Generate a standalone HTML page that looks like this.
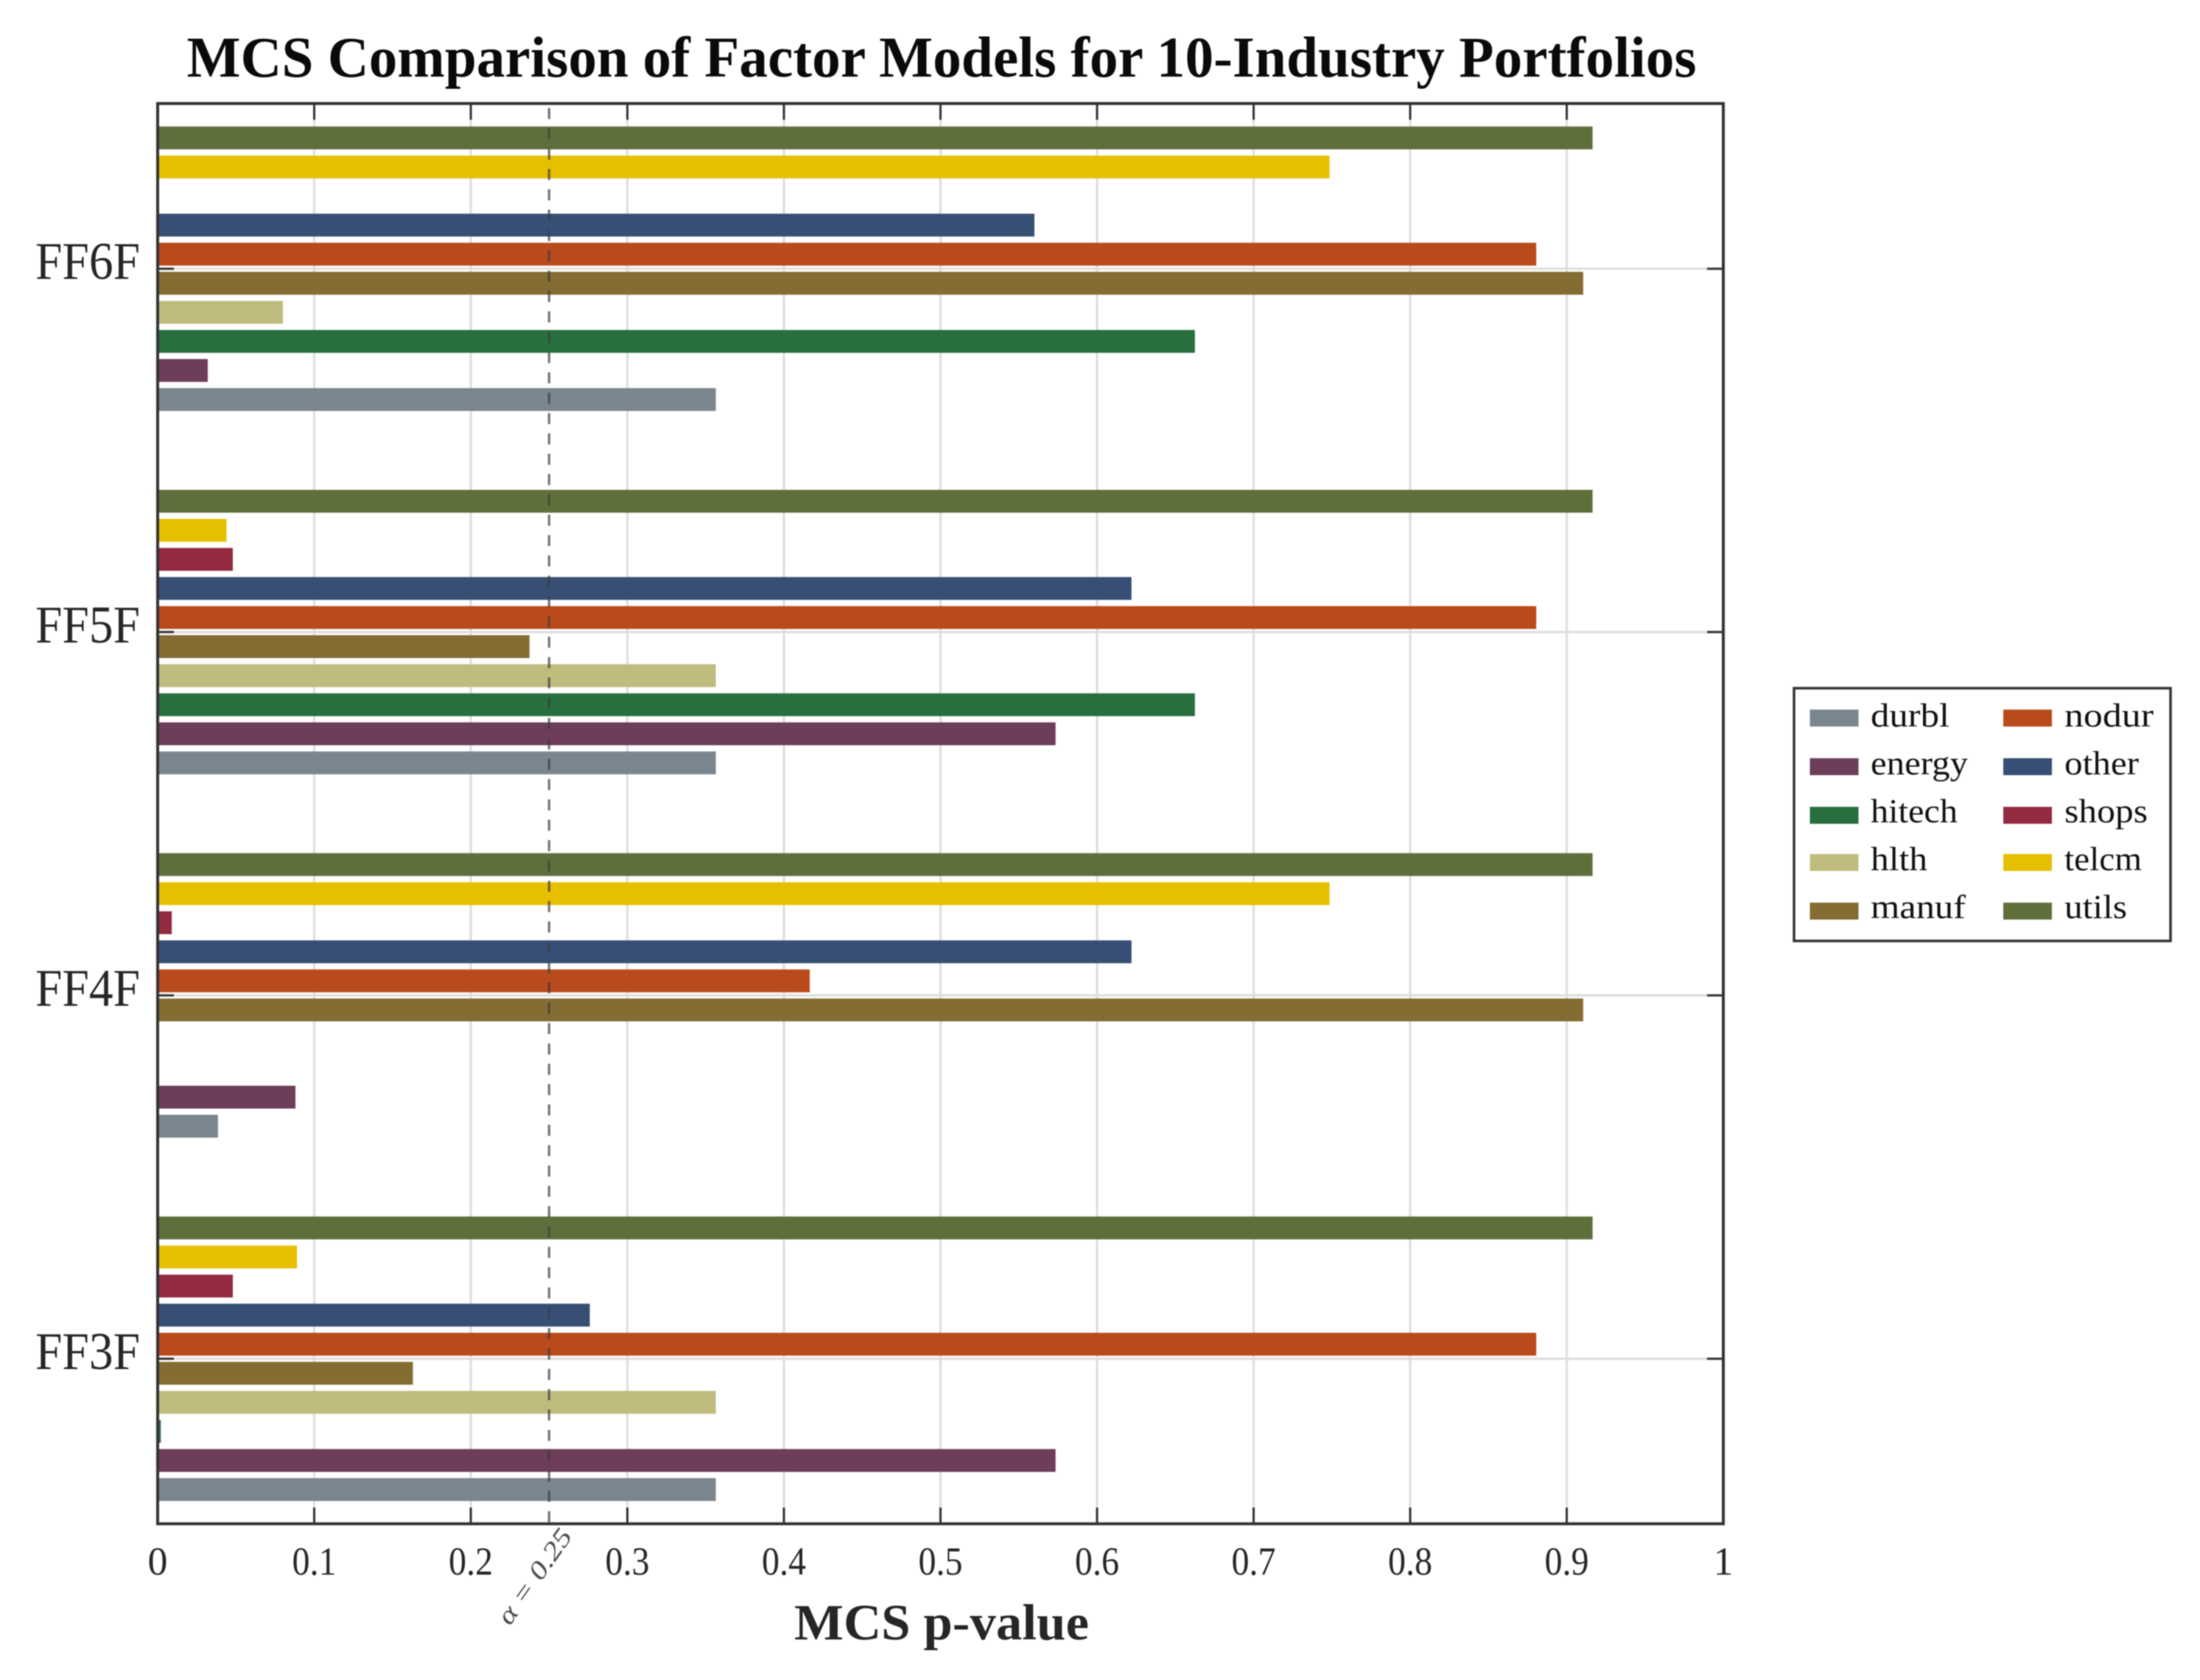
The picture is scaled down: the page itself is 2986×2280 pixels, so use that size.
<!DOCTYPE html>
<html lang="en">
<head>
<meta charset="utf-8">
<title>MCS Comparison of Factor Models for 10-Industry Portfolios</title>
<style>
html,body{margin:0;padding:0;background:#fff;}
body{width:2986px;height:2280px;overflow:hidden;}
svg{display:block;filter:blur(0.8px);}
text{font-family:"Liberation Serif",serif;}
</style>
</head>
<body>
<svg id="chart" xmlns="http://www.w3.org/2000/svg" width="2986" height="2280" viewBox="0 0 2986 2280">
  <rect x="0" y="0" width="2986" height="2280" fill="#ffffff"/>
  <text x="1278" y="104" text-anchor="middle" font-size="78" font-weight="bold" fill="#0a0a0a" textLength="2049" lengthAdjust="spacingAndGlyphs">MCS Comparison of Factor Models for 10-Industry Portfolios</text>
  <g id="plot"></g>
  <text x="1278" y="2225" text-anchor="middle" font-size="69" font-weight="bold" fill="#262626" textLength="400" lengthAdjust="spacingAndGlyphs">MCS p-value</text>
  <text transform="translate(735 2146) rotate(-55)" text-anchor="middle" font-size="35" font-style="italic" fill="#4a4a4a" textLength="150" lengthAdjust="spacingAndGlyphs">α = 0.25</text>
  <g>
    <rect x="2435" y="934" width="511" height="343" fill="#ffffff" stroke="#333333" stroke-width="3.5"/>
    <g><rect x="2456.5" y="963" width="66" height="23" fill="#7a868d"/><text x="2539" y="986" font-size="46" fill="#111" textLength="107" lengthAdjust="spacingAndGlyphs">durbl</text></g>
    <g><rect x="2456.5" y="1029" width="66" height="23" fill="#6d3d59"/><text x="2539" y="1051" font-size="46" fill="#111" textLength="132" lengthAdjust="spacingAndGlyphs">energy</text></g>
    <g><rect x="2456.5" y="1095" width="66" height="23" fill="#286f3f"/><text x="2539" y="1116" font-size="46" fill="#111" textLength="118" lengthAdjust="spacingAndGlyphs">hitech</text></g>
    <g><rect x="2456.5" y="1159" width="66" height="23" fill="#bfbc7d"/><text x="2539" y="1181" font-size="46" fill="#111" textLength="77" lengthAdjust="spacingAndGlyphs">hlth</text></g>
    <g><rect x="2456.5" y="1225" width="66" height="23" fill="#846c32"/><text x="2539" y="1246" font-size="46" fill="#111" textLength="129" lengthAdjust="spacingAndGlyphs">manuf</text></g>
    <g><rect x="2719" y="963" width="66" height="23" fill="#b94a1c"/><text x="2802" y="986" font-size="46" fill="#111" textLength="121" lengthAdjust="spacingAndGlyphs">nodur</text></g>
    <g><rect x="2719" y="1029" width="66" height="23" fill="#374f75"/><text x="2802" y="1051" font-size="46" fill="#111" textLength="101" lengthAdjust="spacingAndGlyphs">other</text></g>
    <g><rect x="2719" y="1095" width="66" height="23" fill="#922a40"/><text x="2802" y="1116" font-size="46" fill="#111" textLength="113" lengthAdjust="spacingAndGlyphs">shops</text></g>
    <g><rect x="2719" y="1159" width="66" height="23" fill="#e6c000"/><text x="2802" y="1181" font-size="46" fill="#111" textLength="105" lengthAdjust="spacingAndGlyphs">telcm</text></g>
    <g><rect x="2719" y="1225" width="66" height="23" fill="#5f6f3b"/><text x="2802" y="1246" font-size="46" fill="#111" textLength="85" lengthAdjust="spacingAndGlyphs">utils</text></g>
  </g>
</svg>
<script>
// Categories run bottom to top on the y axis.
const categories = ["FF3F", "FF4F", "FF5F", "FF6F"];
const seriesNames = ["durbl", "energy", "hitech", "hlth", "manuf", "nodur", "other", "shops", "telcm", "utils"];
const seriesColors = ["#7a868d", "#6d3d59", "#286f3f", "#bfbc7d", "#846c32", "#b94a1c", "#374f75", "#922a40", "#e6c000", "#5f6f3b"];
const durbl  = [0.3565, 0.0385, 0.3565, 0.3565];
const energy = [0.5735, 0.088, 0.5735, 0.032];
const hitech = [0.002, 0,     0.6625, 0.6625];
const hlth   = [0.3565, 0,     0.3565, 0.080];
const manuf  = [0.163, 0.9105, 0.2375, 0.9105];
const nodur  = [0.8805, 0.4165, 0.8805, 0.8805];
const other  = [0.276, 0.622, 0.622, 0.560];
const shops  = [0.048, 0.009, 0.048, 0];
const telcm  = [0.089, 0.7485, 0.044, 0.7485];
const utils  = [0.9165, 0.9165, 0.9165, 0.9165];
const xTickValues = [0, 0.1, 0.2, 0.3, 0.4, 0.5, 0.6, 0.7, 0.8, 0.9, 1];
const xTickLabels = ["0", "0.1", "0.2", "0.3", "0.4", "0.5", "0.6", "0.7", "0.8", "0.9", "1"];
const alphaThreshold = 0.25;

const allSeries = [durbl, energy, hitech, hlth, manuf, nodur, other, shops, telcm, utils];
const NS = "http://www.w3.org/2000/svg";
const plot = document.getElementById("plot");

const axisLeft = 214, axisRight = 2339, axisTop = 140.5, axisBottom = 2068;
const xDomainMin = 0, xDomainMax = 1;
const catBottomY = 1844, catTopY = 364.7;
const barPitch = 39.45, barHeight = 31;

function xScale(v) {
  return axisLeft + (v - xDomainMin) / (xDomainMax - xDomainMin) * (axisRight - axisLeft);
}
function yScale(catIndex) {
  return catBottomY + catIndex / (categories.length - 1) * (catTopY - catBottomY);
}
function barCenter(catIndex, seriesIndex) {
  return yScale(catIndex) - (seriesIndex - (seriesNames.length - 1) / 2) * barPitch;
}
function make(tag, attrs, parent) {
  const el = document.createElementNS(NS, tag);
  for (const k in attrs) el.setAttribute(k, attrs[k]);
  parent.appendChild(el);
  return el;
}

// Grid lines
xTickValues.forEach(function (v) {
  if (v === xDomainMin || v === xDomainMax) return;
  const el = make("line", {x1: xScale(v), x2: xScale(v), y1: axisTop, y2: axisBottom, stroke: "#dedede", "stroke-width": 3.2}, plot);
  
  
});
categories.forEach(function (c, i) {
  const el = make("line", {x1: axisLeft, x2: axisRight, y1: yScale(i), y2: yScale(i), stroke: "#dedede", "stroke-width": 3.2}, plot);
  
  
});

// Bars
categories.forEach(function (c, ci) {
  seriesNames.forEach(function (name, si) {
    const v = allSeries[si][ci];
    if (!(v > 0)) return;
    const el = make("rect", {
      x: xScale(0),
      y: barCenter(ci, si) - barHeight / 2,
      width: xScale(v) - xScale(0),
      height: barHeight,
      fill: seriesColors[si]
    }, plot);
    
    
  });
});

// Threshold line
const thresholdLine = make("line", {
  x1: xScale(alphaThreshold), x2: xScale(alphaThreshold), y1: axisTop + 6, y2: axisBottom,
  stroke: "#3c3c3c", "stroke-opacity": 0.72, "stroke-width": 3.2, "stroke-dasharray": "15 12.6"
}, plot);



// Ticks
const tickLength = 22;
xTickValues.forEach(function (v) {
  if (v === xDomainMin || v === xDomainMax) return;
  [[axisBottom, axisBottom - tickLength], [axisTop, axisTop + tickLength]].forEach(function (p) {
    const el = make("line", {x1: xScale(v), x2: xScale(v), y1: p[0], y2: p[1], stroke: "#333333", "stroke-width": 3}, plot);
    
    
  });
});
categories.forEach(function (c, i) {
  [[axisLeft, axisLeft + tickLength], [axisRight, axisRight - tickLength]].forEach(function (p) {
    const el = make("line", {x1: p[0], x2: p[1], y1: yScale(i), y2: yScale(i), stroke: "#333333", "stroke-width": 3}, plot);
    
    
  });
});

// Axes box
const axesBox = make("rect", {
  x: axisLeft, y: axisTop, width: axisRight - axisLeft, height: axisBottom - axisTop,
  fill: "none", stroke: "#333333", "stroke-width": 4
}, plot);



// Tick labels
xTickValues.forEach(function (v, i) {
  const el = make("text", {
    x: xScale(v), y: 2137, "text-anchor": "middle", "font-size": 54, fill: "#262626"
  }, plot);
  
  
  el.textContent = xTickLabels[i];
  if (xTickLabels[i].length > 1) {
    el.setAttribute("textLength", 60);
    el.setAttribute("lengthAdjust", "spacingAndGlyphs");
  }
});
categories.forEach(function (c, i) {
  const el = make("text", {
    x: 190, y: yScale(i) + 14, "text-anchor": "end", "font-size": 72, fill: "#262626",
    textLength: 142, lengthAdjust: "spacingAndGlyphs"
  }, plot);
  
  
  el.textContent = c;
});
</script>
</body>
</html>
